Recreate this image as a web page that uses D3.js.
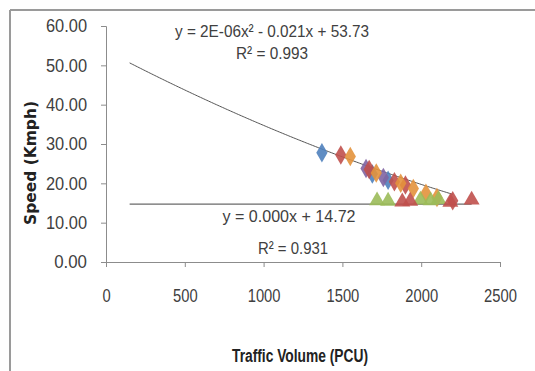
<!DOCTYPE html>
<html><head><meta charset="utf-8">
<script src="https://cdn.jsdelivr.net/npm/d3@7"></script>
<style>
html,body{margin:0;padding:0;background:#fff;}
svg{display:block;}
.narrow{font-family:"Liberation Sans","Arial",sans-serif;}
</style></head>
<body>
<script>
// ---- data ----
const xTicks = [0, 500, 1000, 1500, 2000, 2500];
const yTicks = [0, 10, 20, 30, 40, 50, 60];
const diamondBlue = [[1370, 27.8], [1690, 22.4], [1790, 20.8]];
const diamondRed = [[1490, 27.2], [1670, 23.5], [1830, 20.4], [1900, 19.6], [2200, 15.6]];
const diamondOrange = [[1550, 26.8], [1715, 22.6], [1870, 20.0], [1950, 18.7], [2030, 17.5], [2100, 16.4]];
const diamondPurple = [[1650, 23.8], [1760, 21.5]];
const triGreen = [[1720, 15.6], [1790, 15.5], [1995, 15.8], [2060, 15.6], [2110, 15.9]];
const triRed = [[1880, 15.3], [1930, 15.5], [2185, 15.2], [2320, 15.8]];
const polyCoef = [2e-6, -0.021, 53.73];
const linCoef = [0.000, 14.72];
const trendRange = [150, 2200];
const linRange = [150, 2320];
const eq1 = ["y = 2E-06x² - 0.021x + 53.73", "R² = 0.993"];
const eq2 = ["y = 0.000x + 14.72", "R² = 0.931"];

const W = 535, H = 371;
const svg = d3.select("body").append("svg").attr("width", W).attr("height", H);

// frame
svg.append("line").attr("x1", 10).attr("x2", W).attr("y1", 10).attr("y2", 10).attr("stroke", "#9a9a9a").attr("stroke-width", 2);
svg.append("line").attr("x1", 10).attr("x2", 10).attr("y1", 10).attr("y2", H).attr("stroke", "#9a9a9a").attr("stroke-width", 2);

const x = d3.scaleLinear().domain([0, 2500]).range([106, 500]);
const y = d3.scaleLinear().domain([0, 60]).range([262, 26]);

const axisColor = "#8c8c8c";
const gx = svg.append("g").attr("transform", "translate(0,262)")
  .call(d3.axisBottom(x).tickValues(xTicks).tickSize(5).tickPadding(22).tickFormat(d3.format("d")));
const gy = svg.append("g").attr("transform", "translate(106,0)")
  .call(d3.axisLeft(y).tickValues(yTicks).tickSize(5).tickPadding(14).tickFormat(d3.format(".2f")));
[gx, gy].forEach(g => {
  g.select(".domain").attr("stroke", axisColor);
  g.selectAll(".tick line").attr("stroke", axisColor);
  g.selectAll(".tick text").attr("class", "narrow").attr("font-size", 18).attr("fill", "#404040")
    .attr("lengthAdjust", "spacingAndGlyphs")
    .attr("textLength", function() { return this.textContent.length * 8.2; });
});

// trend lines
const poly = v => polyCoef[0] * v * v + polyCoef[1] * v + polyCoef[2];
const polyPts = d3.range(trendRange[0], trendRange[1] + 1, 10).map(v => [v, poly(v)]);
const line = d3.line().x(d => x(d[0])).y(d => y(d[1]));
svg.append("path").attr("d", line(polyPts)).attr("fill", "none").attr("stroke", "#555").attr("stroke-width", 1);
const linPts = linRange.map(v => [v, linCoef[0] * v + linCoef[1]]);
svg.append("path").attr("d", line(linPts)).attr("fill", "none").attr("stroke", "#444").attr("stroke-width", 1);

// markers
const diamond = d3.symbol().type(d3.symbolDiamond).size(110);
const tri = d3.symbol().type(d3.symbolTriangle).size(110);
function plot(data, sym, color) {
  svg.append("g").selectAll("path").data(data).join("path")
    .attr("d", sym).attr("transform", d => `translate(${x(d[0])},${y(d[1])})`)
    .attr("fill", color).attr("opacity", 0.9);
}
plot(diamondBlue, diamond, "#4F81BD");
plot(diamondPurple, diamond, "#8064A2");
plot(diamondRed, diamond, "#C0504D");
plot(diamondOrange, diamond, "#E3923C");
plot(triGreen, tri, "#9BBB59");
plot(triRed, tri, "#C0504D");

// equation labels
function label(txt, cx, by, len) {
  svg.append("text").attr("class", "narrow").attr("x", cx).attr("y", by).attr("text-anchor", "middle")
    .attr("font-size", 17).attr("fill", "#404040").attr("textLength", len).attr("lengthAdjust", "spacingAndGlyphs").text(txt);
}
label(eq1[0], 272, 37, 194);
label(eq1[1], 272, 59, 72);
label(eq2[0], 289, 222, 133);
label(eq2[1], 293, 254, 70);

// axis titles
svg.append("text").attr("transform", "translate(36,163) rotate(-90)").attr("text-anchor", "middle")
  .attr("font-family", "DejaVu Sans, sans-serif").attr("font-weight", "bold").attr("font-size", 15)
  .attr("fill", "#222").attr("textLength", 124).attr("lengthAdjust", "spacingAndGlyphs").text("Speed (Kmph)");
svg.append("text").attr("class", "narrow").attr("x", 300).attr("y", 362).attr("text-anchor", "middle")
  .attr("font-weight", "bold").attr("font-size", 18).attr("fill", "#222")
  .attr("textLength", 136).attr("lengthAdjust", "spacingAndGlyphs").text("Traffic Volume (PCU)");
</script>
</body></html>
